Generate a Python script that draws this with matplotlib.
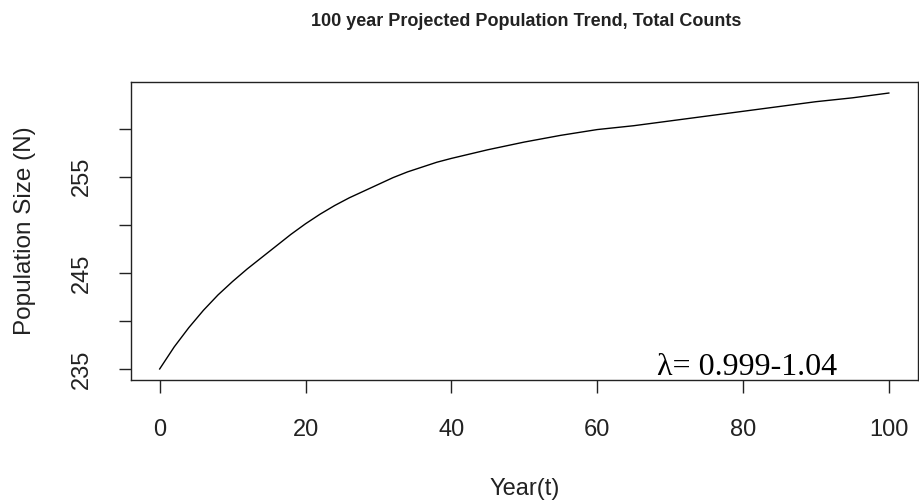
import numpy as np
import matplotlib
matplotlib.use('Agg')
from matplotlib import pyplot as plt

plt.rcParams['font.family'] = ['Liberation Sans', 'DejaVu Sans']

# Projected total counts: every 2 years while the curve bends, then every 5
years = [0, 2, 4, 6, 8, 10, 12, 14, 16, 18, 20, 22, 24, 26, 28, 30, 32, 34, 36, 38, 40,
         45, 50, 55, 60, 65, 70, 75, 80, 85, 90, 95, 100]
population = [235.0, 237.3, 239.3, 241.1, 242.7, 244.1, 245.4, 246.6, 247.8, 249.0, 250.1,
              251.1, 252.0, 252.8, 253.5, 254.2, 254.9, 255.5, 256.0, 256.5, 256.9,
              257.8, 258.6, 259.3, 259.9, 260.3, 260.8, 261.3, 261.8, 262.3, 262.8, 263.2, 263.7]
x_ticks = [0, 20, 40, 60, 80, 100]
y_ticks = [235, 240, 245, 250, 255, 260]
y_tick_labels = ['235', '', '245', '', '255', '']
lambda_label = 'λ= 0.999-1.04'

fig = plt.figure(figsize=(9.19, 5.04), dpi=100)
ax = fig.add_axes([130.5 / 919, 124 / 504, (918 - 130.5) / 919, 298 / 504])

ax.plot(years, population, color='black', linewidth=1.0)

# R-style 4% padding around the data range
def padded(lo, hi):
    d = (hi - lo) * 0.04
    return lo - d, hi + d

ax.set_xlim(*padded(min(years), max(years)))
ax.set_ylim(*padded(min(population), max(population)))

ax.set_xticks(x_ticks)
ax.set_xticklabels([str(t) for t in x_ticks], fontsize=17)
ax.set_yticks(y_ticks)
ax.set_yticklabels(y_tick_labels, fontsize=17, rotation=90, va='center')
ax.tick_params(axis='both', direction='out', length=9, width=1.0, colors='#222222', labelcolor='#222222')
ax.tick_params(axis='x', pad=19)
ax.tick_params(axis='y', pad=18)

for s in ax.spines.values():
    s.set_linewidth(1.0)
    s.set_color('#222222')

ax.set_xlabel('Year(t)', fontsize=17, color='#222222', labelpad=27)
ax.set_ylabel('Population Size (N)', fontsize=17.5, color='#222222', labelpad=25)

fig.text(526 / 919, 1 - 21 / 504, '100 year Projected Population Trend, Total Counts',
         ha='center', va='center', fontsize=13, fontweight='bold', color='#222222')

ax.text(68.2, 234.4, lambda_label, family=['Liberation Serif', 'DejaVu Serif'],
        fontsize=23, ha='left', va='baseline', color='black')

fig.savefig('out.png', dpi=100)
